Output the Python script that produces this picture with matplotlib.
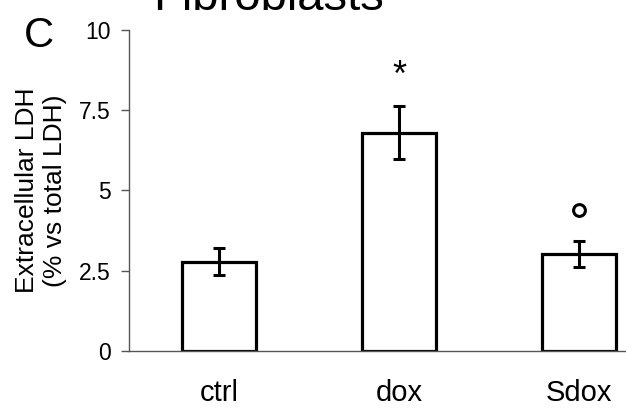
import matplotlib.pyplot as plt
import numpy as np

plt.rcParams['font.family'] = ['Liberation Sans', 'DejaVu Sans']

categories = ['ctrl', 'dox', 'Sdox']
values = [2.78, 6.80, 3.01]
errors = [0.41, 0.83, 0.41]
marks = ['', '*', 'o']
mark_y = [0, 8.55, 4.4]

fig = plt.figure(figsize=(6.26, 4.08), dpi=100)
ax = fig.add_axes([0.206, 0.140, 0.794, 0.787])

x = np.arange(len(categories))
ax.bar(x, values, width=0.41, color='white', edgecolor='black', linewidth=2.3, zorder=2)
ax.errorbar(x, values, yerr=errors, fmt='none', ecolor='black', elinewidth=2.2,
            capsize=4, capthick=2.2, zorder=3)

# marcas de significancia
for xi, m, ym in zip(x, marks, mark_y):
    if m == '*':
        ax.text(xi, ym, '*', ha='center', va='center', fontsize=26)
    elif m == 'o':
        ax.plot(xi, ym, 'o', mfc='white', mec='black', ms=8.5, mew=2.2)

ax.set_xlim(-0.5, 2.26)
ax.set_ylim(0, 10)
ax.set_yticks([0, 2.5, 5, 7.5, 10])
ax.set_yticklabels(['0', '2.5', '5', '7.5', '10'])
ax.set_xticks(x)
ax.set_xticklabels(categories, fontsize=21)
ax.tick_params(axis='x', length=0, pad=20)
ax.tick_params(axis='y', labelsize=16.5, length=6, width=1, color='#555555', pad=7)

for s in ['top', 'right']:
    ax.spines[s].set_visible(False)
for s in ['left', 'bottom']:
    ax.spines[s].set_color('#555555')
    ax.spines[s].set_linewidth(1)

ax.set_ylabel('Extracellular LDH\n(% vs total LDH)', fontsize=19, linespacing=1.2, labelpad=9)

fig.text(0.244, 0.975, 'Fibroblasts', fontsize=34, va='baseline', ha='left')
fig.text(0.038, 0.885, 'C', fontsize=30, va='baseline', ha='left')

fig.savefig('out.png', dpi=100)
